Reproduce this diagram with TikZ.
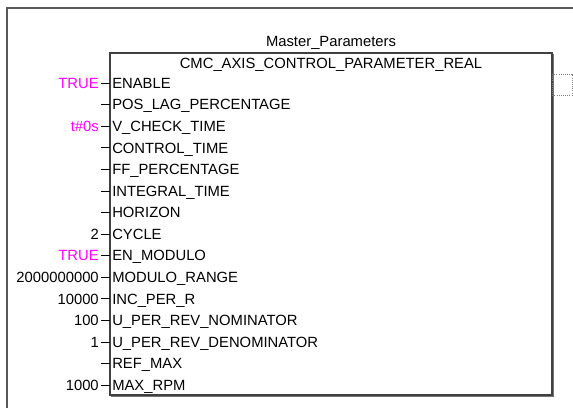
\documentclass[tikz,border=0pt]{standalone}
\usepackage{fontspec}
\setmainfont{Liberation Sans}
\definecolor{MPmag}{RGB}{255,0,255}
\tikzset{MPtxt/.style={inner sep=0pt,font=\fontsize{11.1}{13}\selectfont,text height=7.95pt,text depth=0pt},
         MPpin/.style={MPtxt,anchor=west},
         MPval/.style={MPtxt,anchor=east,xshift=-1.5pt},
         MPframe/.style={draw=black!65,line width=1.3pt},
         MPbox/.style={draw=black!75,line width=0.8pt},
         MPshadow/.style={draw=black!55,line width=1.2pt},
         MPout/.style={draw=black!50,densely dotted,line width=0.6pt}}

\begin{document}
\begin{tikzpicture}[x=0.75pt,y=-0.75pt]
    \useasboundingbox (0,0) rectangle (573,408);
    \draw[MPframe] (7,408) -- (7,8) -- (573,8);
    \coordinate (fbnw) at (110,53); \coordinate (fbse) at (552,395);
    \draw[MPshadow] (553,54) -- (553,396) -- (111,396);
    \draw[MPbox] (fbnw) rectangle (fbse);
    \node[MPtxt] (inst) at (331,41) {Master\_Parameters};
    \node[MPtxt] (type) at (331,63) {CMC\_AXIS\_CONTROL\_PARAMETER\_REAL};
    \coordinate (q1) at (552,74); \coordinate (q2) at (572,95);
    \draw[MPout] (q1) rectangle (q2);
    \foreach \i/\pin/\val/\col in {0/ENABLE/TRUE/MPmag,1/POS\_LAG\_PERCENTAGE//black,
        2/V\_CHECK\_TIME/t\#0s/MPmag,3/CONTROL\_TIME//black,4/FF\_PERCENTAGE//black,
        5/INTEGRAL\_TIME//black,6/HORIZON//black,7/CYCLE/2/black,8/EN\_MODULO/TRUE/MPmag,
        9/MODULO\_RANGE/2000000000/black,10/INC\_PER\_R/10000/black,
        11/U\_PER\_REV\_NOMINATOR/100/black,12/U\_PER\_REV\_DENOMINATOR/1/black,
        13/REF\_MAX//black,14/MAX\_RPM/1000/black}
      {\coordinate (e\i) at (110,83+21.57*\i); \coordinate (t\i) at (101,83+21.57*\i);
       \draw (t\i) -- (e\i);
       \node[MPpin] (p\i) at (112,83+21.57*\i) {\pin};
       \node[MPval,text=\col] (v\i) at (t\i) {\val};}
  \end{tikzpicture}
\end{document}
